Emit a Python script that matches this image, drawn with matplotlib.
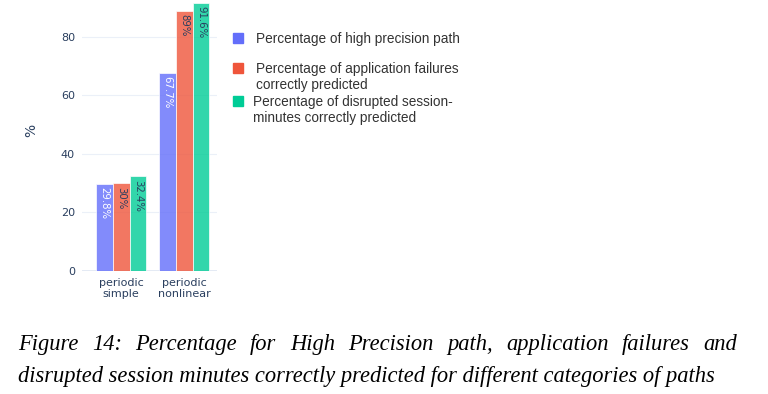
import matplotlib
matplotlib.use("Agg")
import matplotlib.pyplot as plt
import numpy as np

categories = ["periodic\nsimple", "periodic\nnonlinear"]
series_names = [
    "Percentage of high precision path",
    "Percentage of application failures\ncorrectly predicted",
    "Percentage of disrupted session-\nminutes correctly predicted",
]
high_precision = [29.8, 67.7]
app_failures = [30.0, 89.0]
disrupted_minutes = [32.4, 91.6]
bar_labels = [["29.8%", "67.7%"], ["30%", "89%"], ["32.4%", "91.6%"]]
yticks = [0, 20, 40, 60, 80]
caption_line1 = "Figure 14: Percentage for High Precision path, application failures and"
caption_line2 = "disrupted session minutes correctly predicted for different categories of paths"

series = [high_precision, app_failures, disrupted_minutes]
colors = ["#636efa", "#EF553B", "#00cc96"]
text_colors = ["white", "#2a3f5f", "#2a3f5f"]

W, H = 768, 394
fig = plt.figure(figsize=(W / 100, H / 100), dpi=100)
fig.patch.set_facecolor("white")

ax = fig.add_axes([82 / W, (H - 271) / H, 135 / W, 271 / H])
ax.set_xlim(-0.62, 1.52)
ax.set_ylim(0, 92.6)
for s in ax.spines.values():
    s.set_visible(False)
ax.set_yticks(yticks)
ax.tick_params(axis="both", length=0, labelsize=8, colors="#2a3f5f", pad=5)
ax.set_yticklabels([str(t) for t in yticks])
for t in yticks[1:]:
    ax.axhline(t, color="#ebf0f8", lw=0.8, zorder=0)
ax.axhline(0, color="#dfe6f2", lw=1.2, zorder=0)

x = np.arange(len(categories))
bw = 0.8 / 3
for i, vals in enumerate(series):
    pos = x - 0.8 / 2 + bw * (i + 0.5)
    ax.bar(pos, vals, width=bw, color=colors[i], alpha=0.8, edgecolor="white",
           linewidth=0.6, zorder=2)
    for p, v, lab in zip(pos, vals, bar_labels[i]):
        ax.text(p, v - 1.2, lab, rotation=-90, ha="center", va="top",
                fontsize=7.3, color=text_colors[i], zorder=3)

ax.set_xticks(x)
ax.set_xticklabels(categories, linespacing=1.15)
ax.set_ylabel("%", fontsize=10, color="#2a3f5f")
ax.yaxis.set_label_coords((38 - 82) / 135, (271 - 130) / 271)

# legend
leg_entries = [(38, series_names[0], 256), (68, series_names[1], 256), (101, series_names[2], 253)]
for (yy, txt, tx), c in zip(leg_entries, colors):
    fig.patches.append(matplotlib.patches.Rectangle(
        (233 / W, 1 - (yy + 5) / H), 10 / W, 10 / H, transform=fig.transFigure,
        color=c, figure=fig))
    fig.text(tx / W, 1 - (yy - 6) / H, txt, fontsize=9.8, color="#333333",
             va="top", ha="left", linespacing=1.15, family="Liberation Sans")

# caption
cap_font = dict(family="Liberation Serif", style="italic", color="black")
renderer = fig.canvas.get_renderer()
fs = 14.5
t2 = fig.text(18 / W, 1 - 382 / H, caption_line2, fontsize=fs, **cap_font)
w2 = t2.get_window_extent(renderer).width
fs = fs * 700 / w2
t2.set_fontsize(fs)

words = caption_line1.split(" ")
word_texts = [fig.text(0, 1 - 350 / H, w, fontsize=fs, **cap_font) for w in words]
widths = [t.get_window_extent(renderer).width for t in word_texts]
left, right = 18, 737
gap = (right - left - sum(widths)) / (len(words) - 1)
xpos = left
for t, w in zip(word_texts, widths):
    t.set_x(xpos / W)
    xpos += w + gap

fig.savefig("out.png", dpi=100, facecolor="white")
